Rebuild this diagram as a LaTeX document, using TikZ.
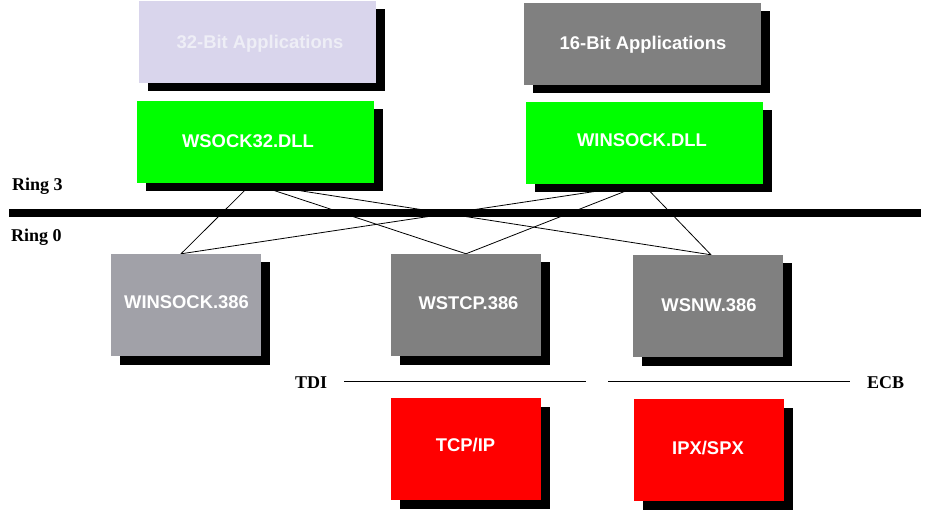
\documentclass[tikz,border=0pt]{standalone}
\usepackage{fontspec}
\setmainfont{Liberation Serif}
\newfontfamily\arialfont{Liberation Sans}
\usetikzlibrary{shadows,calc}
\pgfdeclarelayer{bglayer}
\pgfdeclarelayer{connlayer}
\pgfsetlayers{bglayer,connlayer,main}
\definecolor{lav}{HTML}{D9D5EC}
\definecolor{lavtext}{HTML}{EEEEF6}
\definecolor{midgray}{HTML}{808080}
\definecolor{lgray}{HTML}{A1A1A8}
\definecolor{bgreen}{HTML}{00FF00}
\definecolor{bred}{HTML}{FF0000}
\tikzset{
  boxsh/.style={rectangle, inner sep=0pt, draw=none,
    general shadow={fill=black, shadow xshift=8.5pt, shadow yshift=-8.5pt}},
  wide/.style={boxsh, minimum width=237pt, minimum height=82pt},
  small/.style={boxsh, minimum width=150pt, minimum height=102pt},
  btext/.style={anchor=base, inner sep=0pt, text=white,
    font=\arialfont\bfseries\fontsize{18.4}{20}\selectfont},
  ringtext/.style={anchor=base west, inner sep=0pt,
    font=\bfseries\fontsize{18}{20}\selectfont},
  conn/.style={draw=black, line width=0.8pt},
}
\begin{document}
\begin{tikzpicture}[x=1pt, y=-1pt]
\useasboundingbox (0,0) rectangle (925,510);
\begin{pgfonlayer}{bglayer}
\fill[white] (0,0) rectangle (925,510);
\end{pgfonlayer}

% boxes
\node[wide, fill=lav] (app32) at (257.5,42) {};
\node[wide, fill=midgray] (app16) at (642.5,44) {};
\node[wide, fill=bgreen] (wsock32) at (255.5,142) {};
\node[wide, fill=bgreen] (winsockdll) at (644.5,143) {};
\node[small, fill=lgray] (w386) at (186,305) {};
\node[small, fill=midgray] (wstcp) at (466,305) {};
\node[small, fill=midgray] (wsnw) at (708,306) {};
\node[small, fill=bred] (tcpip) at (466,449) {};
\node[small, fill=bred] (ipx) at (709,450) {};

% box texts
\node[btext, text=lavtext] (t32) at (260,49) {32-Bit Applications};
\node[btext] (t16) at (643,50) {16-Bit Applications};
\node[btext] (tws32) at (248,148) {WSOCK32.DLL};
\node[btext] (twsdll) at (642,147) {WINSOCK.DLL};
\node[btext] (tw386) at (186.5,308) {WINSOCK.386};
\node[btext] (twstcp) at (468.5,309) {WSTCP.386};
\node[btext] (twsnw) at (709,311) {WSNW.386};
\node[btext] (ttcp) at (465.5,451) {TCP/IP};
\node[btext] (tipx) at (708,454) {IPX/SPX};

% ring labels
\node[ringtext] (r3) at (12,191) {Ring 3};
\node[ringtext] (r0) at (11,242) {Ring 0};
\node[ringtext] (tdi) at (295,388) {TDI};
\node[ringtext] (ecb) at (867,388) {ECB};

% ring bar and interface lines
\coordinate (barL) at (9,213);
\coordinate (barR) at (921,213);
\draw[line width=8pt] (barL) -- (barR);
\coordinate (tdiL) at (344,381);
\coordinate (tdiR) at (586,381);
\coordinate (ecbL) at (608,381);
\coordinate (ecbR) at (850,381);
\draw[line width=1pt] (tdiL) -- (tdiR);
\draw[line width=1pt] (ecbL) -- (ecbR);

% connectors (behind boxes)
\begin{pgfonlayer}{connlayer}
\coordinate (s32) at ([xshift=-3.5pt]wsock32.south);
\coordinate (sdll) at ([xshift=-1.5pt]winsockdll.south);
\coordinate (n386) at ([xshift=-5pt]w386.north);
\coordinate (ntcp) at (wstcp.north);
\coordinate (nnw) at ([xshift=3pt]wsnw.north);
\draw[conn] (s32) -- (n386);
\draw[conn] (s32) -- (ntcp);
\draw[conn] (s32) -- (nnw);
\draw[conn] (sdll) -- (n386);
\draw[conn] (sdll) -- (ntcp);
\draw[conn] (sdll) -- (nnw);
\end{pgfonlayer}
\end{tikzpicture}
\end{document}
